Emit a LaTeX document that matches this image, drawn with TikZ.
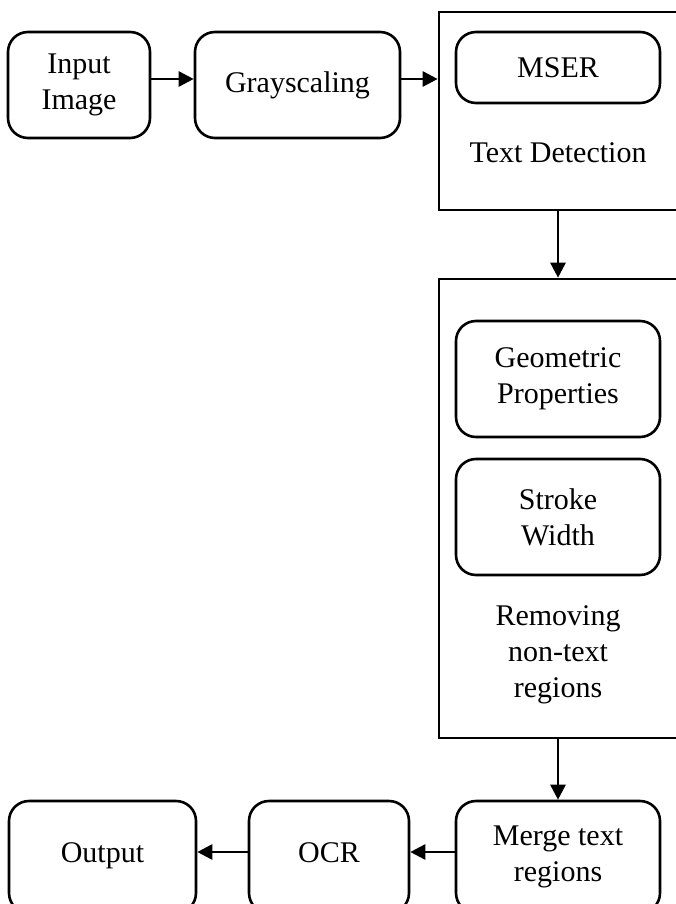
\documentclass[tikz,border=0pt]{standalone}
\usepackage{fontspec}
\setmainfont{Liberation Serif}
\usetikzlibrary{positioning,arrows.meta}
\definecolor{ink}{gray}{0.0}
\tikzset{
  stage/.style={draw=ink, line width=2.6pt, rounded corners=20pt, fill=white, align=center,
                inner sep=0pt, font=\fontsize{30}{36}\selectfont},
  group/.style={draw=ink, line width=2.6pt, inner sep=0pt},
  lbl/.style={align=center, inner sep=0pt, font=\fontsize{30}{36}\selectfont},
  flow/.style={-{Triangle[length=15pt,width=15pt]}, draw=ink, line width=2.6pt},
}

\begin{document}
\begin{tikzpicture}[x=1pt,y=-1pt]
    \useasboundingbox (0,0) rectangle (675,904);
    \node[group, minimum width=260pt, minimum height=198pt] (det) at (569,111) {};
    \node[group, minimum width=260pt, minimum height=459pt] (rem) at (569,508.5) {};

    \node[stage, minimum width=142pt, minimum height=106pt] (inp)  at (79,85)  {Input\\Image};
    \node[stage, minimum width=205pt, minimum height=106pt] (gray) at (297.5,85) {\raisebox{5pt}{Grayscaling}};
    \node[stage, minimum width=204pt, minimum height=71pt]  (mser) at (558,67.5) {MSER};
    \node[lbl] (detlbl) at (558,153) {Text Detection};

    \node[stage, minimum width=204pt, minimum height=116pt] (geo)    at (558,379) {Geometric\\Properties};
    \node[stage, minimum width=204pt, minimum height=116pt] (stroke) at (558,517) {Stroke\\Width};
    \node[lbl] (remlbl) at (558,655) {Removing\\non-text\\regions};

    \node[stage, minimum width=204pt, minimum height=112pt] (merge) at (558,857) {Merge text\\regions};
    \node[stage, minimum width=160pt, minimum height=112pt] (ocr)   at (329,857) {\raisebox{8pt}{OCR}};
    \node[stage, minimum width=187pt, minimum height=112pt] (out)   at (102.5,857) {\raisebox{8pt}{Output}};

    \draw[flow] ([yshift=6pt]inp.east) -- ([yshift=6pt]gray.west);
    \draw[flow] ([yshift=6pt]gray.east) -- ([yshift=6pt]det.west |- gray.east);
    \draw[flow] (det.south -| mser) -- (rem.north -| mser);
    \draw[flow] (rem.south -| merge) -- (merge);
    \draw[flow] ([yshift=5pt]merge.west) -- ([yshift=5pt]ocr.east);
    \draw[flow] ([yshift=5pt]ocr.west) -- ([yshift=5pt]out.east);
\end{tikzpicture}
\end{document}
